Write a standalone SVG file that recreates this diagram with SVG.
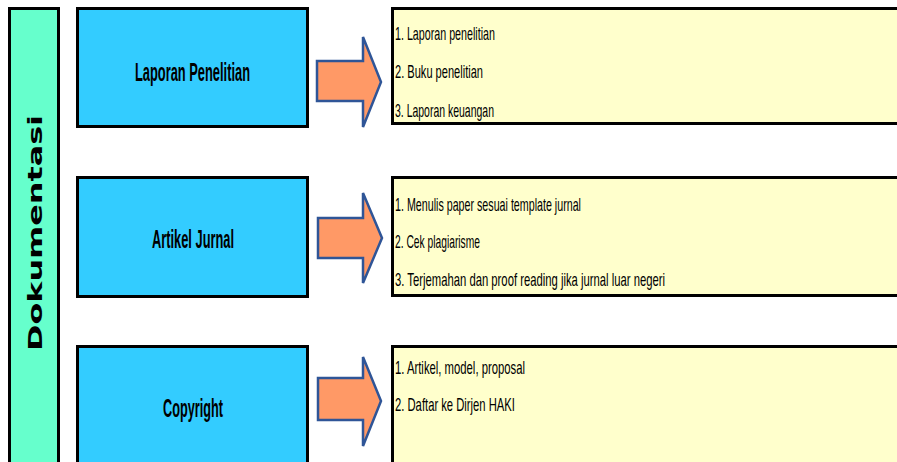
<svg xmlns="http://www.w3.org/2000/svg" width="897" height="462" viewBox="0 0 897 462">
<style>
.side{fill:#66FFCC;stroke:#000;stroke-width:3}
.cat{fill:#33CCFF;stroke:#000;stroke-width:3}
.list{fill:#FFFFCC;stroke:#000;stroke-width:3}
.arr{fill:#FF9966;stroke:#2F5597;stroke-width:2.5;stroke-linejoin:miter}
.ct{font-family:"Liberation Sans",Arial,sans-serif;font-weight:bold;font-size:26px;fill:#000;text-anchor:middle}
.lt{font-family:"Liberation Sans",Arial,sans-serif;font-size:19px;fill:#000}
.st{font-family:"DejaVu Sans",Verdana,sans-serif;font-weight:bold;font-size:19px;fill:#000}
</style>
<rect width="897" height="462" fill="#fff"/>
<g id="dokumentasi">
<rect class="side" x="9.5" y="8.5" width="49" height="470"/>
<text class="st" transform="translate(42,351) rotate(-90)" x="0" y="0" textLength="236" lengthAdjust="spacingAndGlyphs">Dokumentasi</text>
</g>
<g id="laporan-penelitian">
<rect class="cat" x="77.5" y="8.5" width="230" height="118"/>
<text class="ct" x="192.5" y="81" textLength="115" lengthAdjust="spacingAndGlyphs">Laporan Penelitian</text>
</g>
<g id="artikel-jurnal">
<rect class="cat" x="77.5" y="177.5" width="230" height="119"/>
<text class="ct" x="193" y="248" textLength="82" lengthAdjust="spacingAndGlyphs">Artikel Jurnal</text>
</g>
<g id="copyright">
<rect class="cat" x="77.5" y="346.5" width="230" height="130"/>
<text class="ct" x="193" y="417" textLength="60" lengthAdjust="spacingAndGlyphs">Copyright</text>
</g>
<g id="list-laporan">
<rect class="list" x="392.5" y="8.5" width="520" height="115"/>
<text class="lt" x="395" y="40" textLength="100" lengthAdjust="spacingAndGlyphs">1. Laporan penelitian</text>
<text class="lt" x="395" y="78" textLength="88" lengthAdjust="spacingAndGlyphs">2. Buku penelitian</text>
<text class="lt" x="395" y="117" textLength="99" lengthAdjust="spacingAndGlyphs">3. Laporan keuangan</text>
</g>
<g id="list-artikel">
<rect class="list" x="392.5" y="177.5" width="520" height="118"/>
<text class="lt" x="395" y="211" textLength="186" lengthAdjust="spacingAndGlyphs">1. Menulis paper sesuai template jurnal</text>
<text class="lt" x="395" y="248" textLength="85" lengthAdjust="spacingAndGlyphs">2. Cek plagiarisme</text>
<text class="lt" x="395" y="286" textLength="270" lengthAdjust="spacingAndGlyphs">3. Terjemahan dan proof reading jika jurnal luar negeri</text>
</g>
<g id="list-copyright">
<rect class="list" x="392.5" y="346.5" width="520" height="130"/>
<text class="lt" x="395" y="374" textLength="130" lengthAdjust="spacingAndGlyphs">1. Artikel, model, proposal</text>
<text class="lt" x="395" y="411" textLength="120" lengthAdjust="spacingAndGlyphs">2. Daftar ke Dirjen HAKI</text>
</g>
<g id="connectors">
<polygon class="arr" points="317,61 363,61 363,37 381,82 363,127 363,101 317,101"/>
<polygon class="arr" points="318,218 363,218 363,193 382,238 363,283 363,258 318,258"/>
<polygon class="arr" points="318,378 363,378 363,357 381,401 363,446 363,420 318,420"/>
</g>
</svg>
